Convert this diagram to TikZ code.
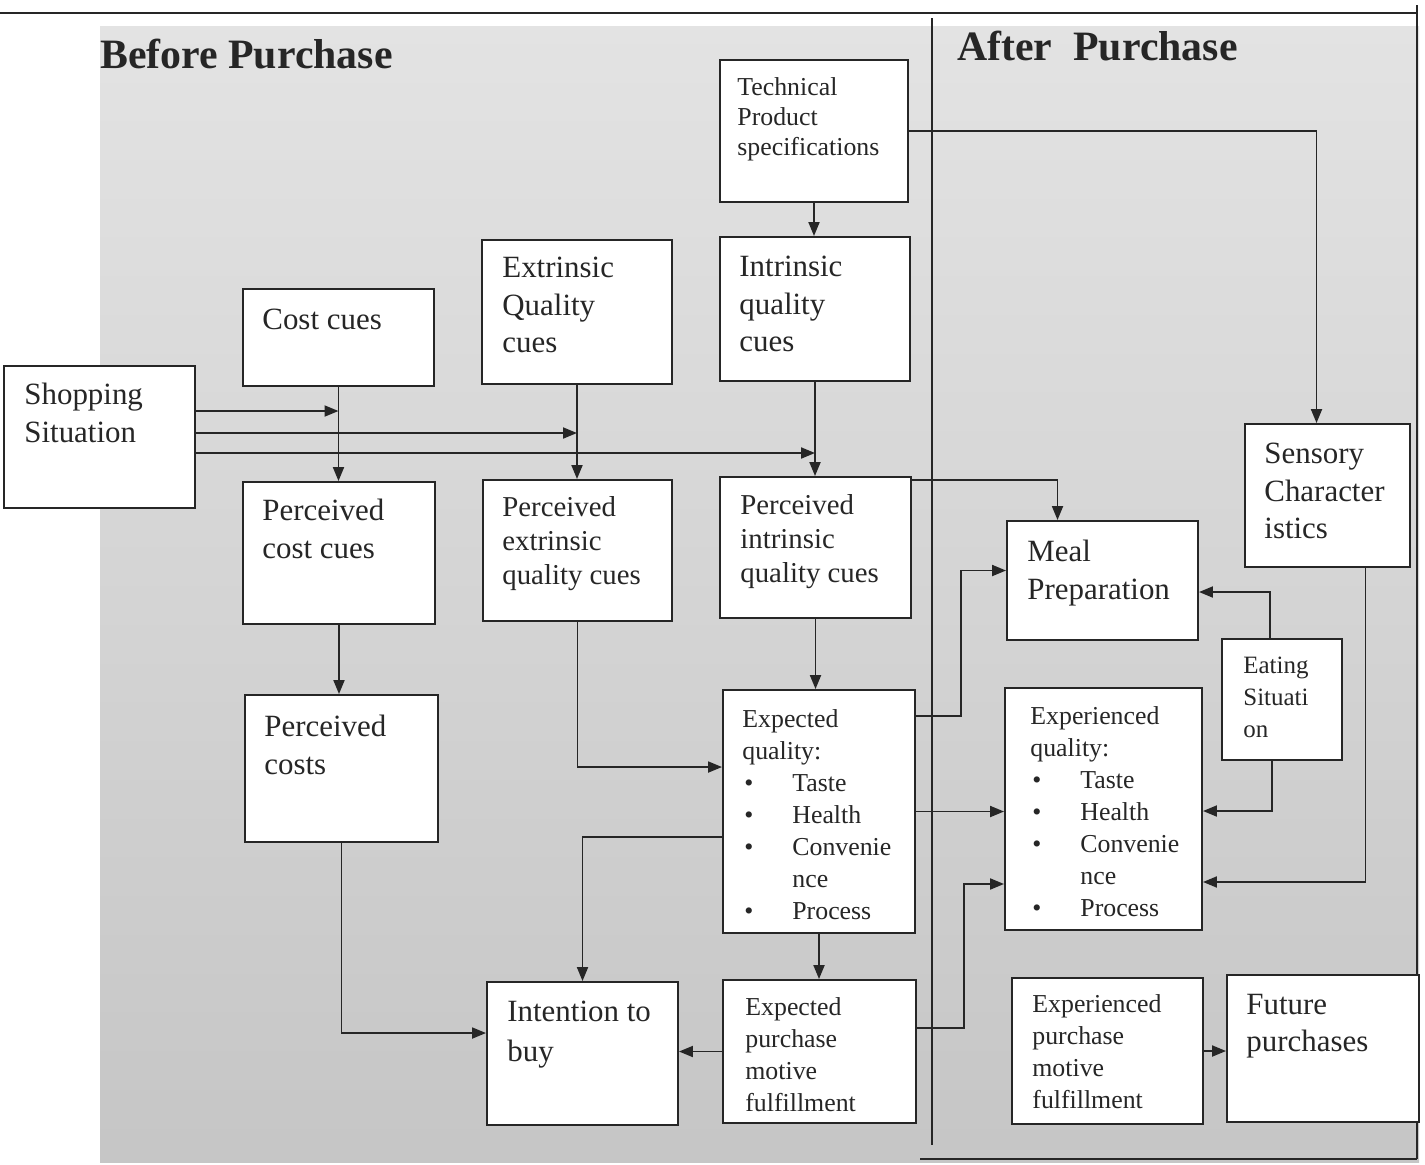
\documentclass[tikz,border=0pt]{standalone}
\usepackage{fontspec}
\setmainfont{Liberation Serif}
\usetikzlibrary{arrows.meta,fit,calc}
\newcommand\fbig{\fontsize{17.6pt}{21.2pt}\selectfont}
\newcommand\fmid{\fontsize{16.4pt}{19.3pt}\selectfont}
\newcommand\fsml{\fontsize{14.7pt}{18.2pt}\selectfont}
\newcommand\ftitle{\fontsize{23.8pt}{28pt}\selectfont\bfseries}
\newcommand\bitem[1]{\makebox[1.0cm][l]{\hspace{0.04cm}\textbullet}#1}
\begin{document}
\begin{tikzpicture}[x=0.02cm,y=-0.02cm,
  box/.style={draw=black!85, line width=1.1pt, fill=white, inner sep=0pt},
  txt/.style={inner sep=0pt, anchor=north west, align=left, text=black!85},
  arr/.style={draw=black!85, line width=1.1pt, -{Triangle[length=0.28cm,width=0.22cm]}},
  ln/.style={draw=black!85, line width=0.9pt}]
\useasboundingbox (0,0) rectangle (1425,1164);
\shade[top color=gray!22, bottom color=gray!45] (100,26) rectangle (1419,1162);
% frame and divider
\draw[ln] (0,13) -- (1418,13);
\draw[ln] (1417,5) -- (1417,1159);
\draw[ln] (920,1159) -- (1417,1159);
\draw[ln] (932,18) -- (932,1145);
% titles
\node[inner sep=0pt, anchor=base west, font=\ftitle, text=black!85] (tb) at (100,68) {Before Purchase};
\node[inner sep=0pt, anchor=base west, font=\ftitle, text=black!85] (ta) at (957,60) {After\ \ Purchase};
% boxes
\node[box, fit={(4,366) (195,508)}] (ss) {};
\node[box, fit={(243,289) (434,386)}] (cc) {};
\node[box, fit={(482,240) (672,384)}] (ec) {};
\node[box, fit={(720,60) (908,202)}] (tps) {};
\node[box, fit={(720,237) (910,381)}] (ic) {};
\node[box, fit={(243,482) (435,624)}] (pcc) {};
\node[box, fit={(483,480) (672,621)}] (pec) {};
\node[box, fit={(720,477) (911,618)}] (pic) {};
\node[box, fit={(245,695) (438,842)}] (pcst) {};
\node[box, fit={(723,690) (915,933)}] (eq) {};
\node[box, fit={(487,982) (678,1125)}] (itb) {};
\node[box, fit={(723,980) (916,1123)}] (epm) {};
\node[box, fit={(1245,424) (1410,567)}] (sen) {};
\node[box, fit={(1007,521) (1198,640)}] (meal) {};
\node[box, fit={(1222,639) (1342,760)}] (eat) {};
\node[box, fit={(1005,688) (1202,930)}] (exq) {};
\node[box, fit={(1012,978) (1203,1124)}] (expm) {};
\node[box, fit={(1227,975) (1419,1122)}] (fut) {};
% texts
\node[txt, font=\fbig] at ([shift={(21,18)}]ss.north west) {Shopping\\Situation};
\node[txt, font=\fbig] at ([shift={(20,21)}]cc.north west) {Cost cues};
\node[txt, font=\fbig] at ([shift={(21,18)}]ec.north west) {Extrinsic\\Quality\\cues};
\node[txt, font=\fontsize{14.7pt}{17pt}\selectfont] at ([shift={(18,18)}]tps.north west) {Technical\\Product\\specifications};
\node[txt, font=\fbig] at ([shift={(20,20)}]ic.north west) {Intrinsic\\quality\\cues};
\node[txt, font=\fbig] at ([shift={(20,18)}]pcc.north west) {Perceived\\cost cues};
\node[txt, font=\fmid] at ([shift={(20,17)}]pec.north west) {Perceived\\extrinsic\\quality cues};
\node[txt, font=\fmid] at ([shift={(21,18)}]pic.north west) {Perceived\\intrinsic\\quality cues};
\node[txt, font=\fbig] at ([shift={(20,21)}]pcst.north west) {Perceived\\costs};
\node[txt, font=\fsml] at ([shift={(20,20)}]eq.north west) {Expected\\quality:\\\bitem{Taste}\\\bitem{Health}\\\bitem{Convenie}\\\hspace*{1.0cm}nce\\\bitem{Process}};
\node[txt, font=\fontsize{17.6pt}{22.6pt}\selectfont] at ([shift={(21,20)}]itb.north west) {Intention to\\buy};
\node[txt, font=\fsml] at ([shift={(23,18)}]epm.north west) {Expected\\purchase\\motive\\fulfillment};
\node[txt, font=\fbig] at ([shift={(20,20)}]sen.north west) {Sensory\\Character\\istics};
\node[txt, font=\fbig] at ([shift={(21,20)}]meal.north west) {Meal\\Preparation};
\node[txt, font=\fontsize{14.2pt}{18.2pt}\selectfont] at ([shift={(22,19)}]eat.north west) {Eating\\Situati\\on};
\node[txt, font=\fsml] at ([shift={(26,19)}]exq.north west) {Experienced\\quality:\\\bitem{Taste}\\\bitem{Health}\\\bitem{Convenie}\\\hspace*{1.0cm}nce\\\bitem{Process}};
\node[txt, font=\fsml] at ([shift={(21,17)}]expm.north west) {Experienced\\purchase\\motive\\fulfillment};
\node[txt, font=\fbig] at ([shift={(20,20)}]fut.north west) {Future\\purchases};
% connectors
\draw[arr] ([yshift=0.52cm]ss.east) -- ([yshift=0.52cm]ss.east -| cc.south);
\draw[arr] ([yshift=0.08cm]ss.east) -- ([yshift=0.08cm]ss.east -| ec.south);
\draw[arr] ([yshift=-0.32cm]ss.east) -- ([yshift=-0.32cm]ss.east -| ic.south);
\draw[arr] (cc.south) -- (cc.south |- pcc.north);
\draw[arr] (ec.south) -- (ec.south |- pec.north);
\draw[arr] (ic.south) -- (ic.south |- pic.north);
\draw[arr] (tps.south) -- (tps.south |- ic.north);
\draw[arr] (tps.east) -| ([xshift=-0.22cm]sen.north);
\draw[arr] ([yshift=-0.08cm]pic.north east) -| ([xshift=-0.9cm]meal.north);
\draw[arr] (pcc.south) -- (pcc.south |- pcst.north);
\draw[arr] (pec.south) |- ([yshift=0.89cm]eq.west);
\draw[arr] (pic.south) -- (pic.south |- eq.north);
\draw[arr] ([yshift=1.91cm]eq.east) -- ++(0.9cm,0) |- ([yshift=0.2cm]meal.west);
\draw[arr] (eq.east) -- (eq.east -| exq.west);
\draw[arr] ([yshift=-0.51cm]eq.west) -| (itb.north);
\draw[arr] (eq.south) -- (eq.south |- epm.north);
\draw[arr] (epm.west) -- (epm.west -| itb.east);
\draw[arr] ([yshift=0.47cm]epm.east) -- ++(0.94cm,0) |- ([yshift=-1.5cm]exq.west);
\draw[arr] (pcst.south) |- ([yshift=0.41cm]itb.west);
\draw[arr] ([xshift=-0.24cm]eat.north) |- ([yshift=-0.23cm]meal.east);
\draw[arr] ([xshift=-0.2cm]eat.south) |- ([yshift=-0.04cm]exq.east);
\draw[arr] ([xshift=0.76cm]sen.south) |- ([yshift=-1.46cm]exq.east);
\draw[arr] (expm.east) -- (expm.east -| fut.west);
\end{tikzpicture}
\end{document}
